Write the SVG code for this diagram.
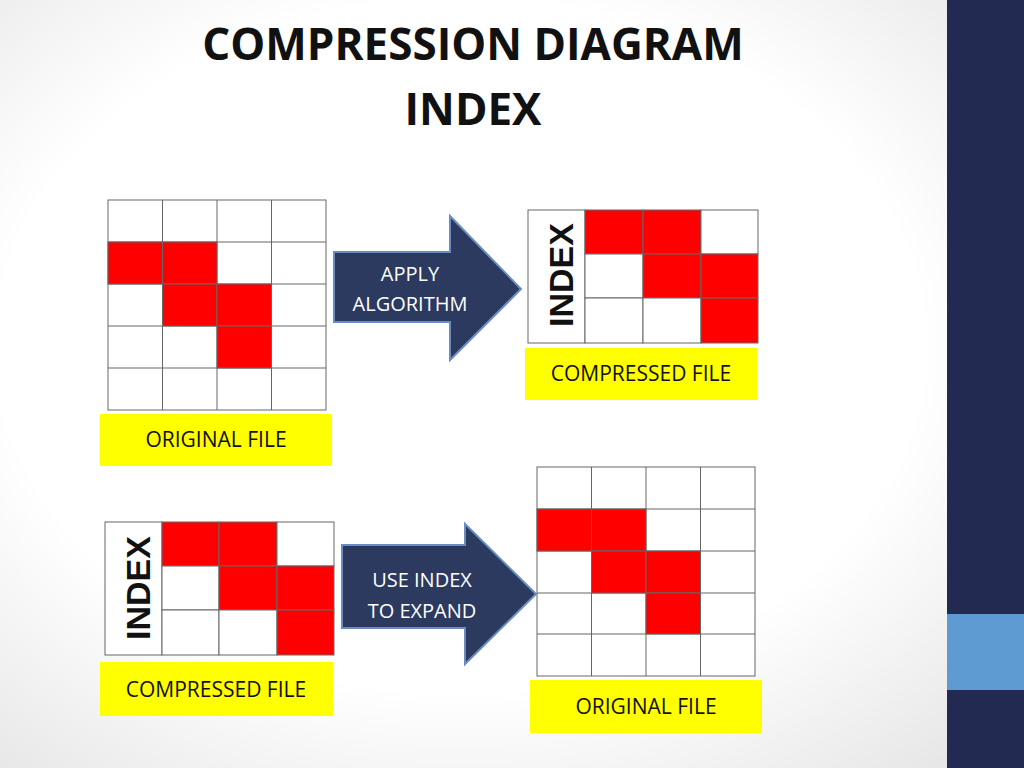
<svg xmlns="http://www.w3.org/2000/svg" width="1024" height="768" viewBox="0 0 1024 768">
<defs>
<radialGradient id="bg" cx="0.45" cy="0.45" r="0.75"><stop offset="0.6" stop-color="#ffffff"/><stop offset="1" stop-color="#e4e4e4"/></radialGradient>
<style>
.c{fill:#fff;stroke:#666;stroke-width:1}
.r{fill:#ff0000;stroke:#666;stroke-width:1}
.lab{fill:#ffff00}
.t{font-family:"Open Sans","Liberation Sans",sans-serif;font-size:21px;fill:#111;text-anchor:middle}
.at{font-family:"Open Sans","Liberation Sans",sans-serif;font-size:20px;fill:#fff;text-anchor:middle}
.idx{font-family:"Liberation Sans",sans-serif;font-weight:bold;font-size:34px;fill:#111;text-anchor:middle}
.arr{fill:#2b3a5e;stroke:#6a8cc0;stroke-width:2}
</style>
</defs>
<rect width="1024" height="768" fill="url(#bg)"/>
<rect x="947" y="0" width="77" height="768" fill="#232a52"/>
<rect x="947" y="614" width="77" height="76" fill="#5e9bd2"/>
<text x="473" y="60" font-family="Open Sans,Liberation Sans,sans-serif" font-weight="bold" font-size="44" text-anchor="middle" fill="#111">COMPRESSION DIAGRAM</text>
<text x="473" y="125" font-family="Open Sans,Liberation Sans,sans-serif" font-weight="bold" font-size="44" text-anchor="middle" fill="#111">INDEX</text>

<g id="original1">
<rect class="c" x="108" y="200" width="218" height="210"/>
<g stroke="#666" stroke-width="1"><line x1="162.5" y1="200" x2="162.5" y2="410"/><line x1="217" y1="200" x2="217" y2="410"/><line x1="271.5" y1="200" x2="271.5" y2="410"/><line x1="108" y1="242" x2="326" y2="242"/><line x1="108" y1="284" x2="326" y2="284"/><line x1="108" y1="326" x2="326" y2="326"/><line x1="108" y1="368" x2="326" y2="368"/></g>
<rect class="r" x="108" y="242" width="54.5" height="42"/><rect class="r" x="162.5" y="242" width="54.5" height="42"/>
<rect class="r" x="162.5" y="284" width="54.5" height="42"/><rect class="r" x="217" y="284" width="54.5" height="42"/>
<rect class="r" x="217" y="326" width="54.5" height="42"/>
<rect class="lab" x="100" y="414" width="232" height="52"/><text class="t" x="216" y="447">ORIGINAL FILE</text>
</g>

<g id="arrow1"><path class="arr" d="M334,252 H450 V216 L521,289 L450,360 V322 H334 Z"/>
<text class="at" x="410" y="281">APPLY</text><text class="at" x="410" y="311">ALGORITHM</text></g>

<g id="compressed1">
<rect class="c" x="528" y="210" width="57" height="133"/>
<text class="idx" transform="translate(573,275) rotate(-90)">INDEX</text>
<rect class="r" x="585" y="210" width="58" height="44"/><rect class="r" x="643" y="210" width="58" height="44"/><rect class="c" x="701" y="210" width="57" height="44"/>
<rect class="c" x="585" y="254" width="58" height="44"/><rect class="r" x="643" y="254" width="58" height="44"/><rect class="r" x="701" y="254" width="57" height="44"/>
<rect class="c" x="585" y="298" width="58" height="45"/><rect class="c" x="643" y="298" width="58" height="45"/><rect class="r" x="701" y="298" width="57" height="45"/>
<rect class="lab" x="525" y="348" width="232" height="52"/><text class="t" x="641" y="381">COMPRESSED FILE</text>
</g>

<g id="compressed2">
<rect class="c" x="105" y="522" width="57" height="133"/>
<text class="idx" transform="translate(150,588) rotate(-90)">INDEX</text>
<rect class="r" x="162" y="522" width="57" height="44"/><rect class="r" x="219" y="522" width="58" height="44"/><rect class="c" x="277" y="522" width="57" height="44"/>
<rect class="c" x="162" y="566" width="57" height="44"/><rect class="r" x="219" y="566" width="58" height="44"/><rect class="r" x="277" y="566" width="57" height="44"/>
<rect class="c" x="162" y="610" width="57" height="45"/><rect class="c" x="219" y="610" width="58" height="45"/><rect class="r" x="277" y="610" width="57" height="45"/>
<rect class="lab" x="100" y="662" width="233" height="54"/><text class="t" x="216" y="697">COMPRESSED FILE</text>
</g>

<g id="arrow2"><path class="arr" d="M342,545 H465 V524 L536,594 L465,664 V628 H342 Z"/>
<text class="at" x="422" y="587">USE INDEX</text><text class="at" x="422" y="618">TO EXPAND</text></g>

<g id="original2">
<rect class="c" x="537" y="467" width="218" height="209"/>
<g stroke="#666" stroke-width="1"><line x1="591.5" y1="467" x2="591.5" y2="676"/><line x1="646" y1="467" x2="646" y2="676"/><line x1="700.5" y1="467" x2="700.5" y2="676"/><line x1="537" y1="509" x2="755" y2="509"/><line x1="537" y1="551" x2="755" y2="551"/><line x1="537" y1="593" x2="755" y2="593"/><line x1="537" y1="634" x2="755" y2="634"/></g>
<rect class="r" x="537" y="509" width="54.5" height="42"/><rect class="r" x="591.5" y="509" width="54.5" height="42"/>
<rect class="r" x="591.5" y="551" width="54.5" height="42"/><rect class="r" x="646" y="551" width="54.5" height="42"/>
<rect class="r" x="646" y="593" width="54.5" height="41"/>
<rect class="lab" x="530" y="680" width="232" height="53"/><text class="t" x="646" y="714">ORIGINAL FILE</text>
</g>
</svg>
